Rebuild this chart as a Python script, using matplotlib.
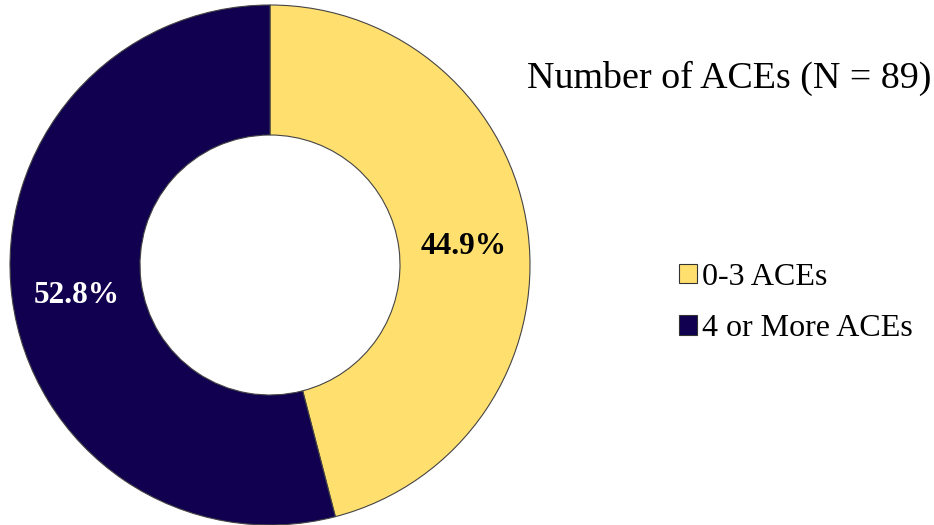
import matplotlib.pyplot as plt
from matplotlib.patches import Patch

# --- DATA ---
categories = ['0-3 ACEs', '4 or More ACEs']
values = [44.9, 52.8]
value_labels = ['44.9%', '52.8%']
colors = ['#FFE06F', '#10004F']
label_colors = ['black', 'white']
title = 'Number of ACEs (N = 89)'

plt.rcParams['font.family'] = ['Liberation Serif', 'DejaVu Serif']

W, H = 934, 525
fig = plt.figure(figsize=(W / 100, H / 100), dpi=100)

# pie axes placed in pixel terms
ax = fig.add_axes([10 / W, 0 / H, 520 / W, 520 / H])
pcts = iter(value_labels)
wedges, _, autotexts = ax.pie(
    values,
    colors=colors,
    startangle=90,
    counterclock=False,
    radius=1.0,
    autopct=lambda p: next(pcts),
    pctdistance=0.75,
    wedgeprops=dict(width=0.5, edgecolor='#444444', linewidth=0.8),
)
for t, c in zip(autotexts, label_colors):
    t.set_color(c)
    t.set_fontsize(22.5)
    t.set_fontweight('bold')
    x, y = t.get_position()
    t.set_position((x, y - 0.022))
ax.set_xlim(-1.0, 1.0)
ax.set_ylim(-1.0, 1.0)
ax.set_aspect('equal')

# title on the right
fig.text(729 / W, 1 - 78 / H, title, ha='center', va='center', fontsize=27.4)

# legend
handles = [Patch(facecolor=c, edgecolor='#333333', linewidth=0.8) for c in colors]
fig.legend(
    handles, categories,
    loc='upper left',
    bbox_to_anchor=(679 / W, 1 - 263 / H),
    frameon=False,
    fontsize=23,
    handlelength=0.55,
    handleheight=0.55,
    handletextpad=0.17,
    labelspacing=0.7,
    borderaxespad=0,
    borderpad=0,
)

fig.savefig('out.png', dpi=100)
